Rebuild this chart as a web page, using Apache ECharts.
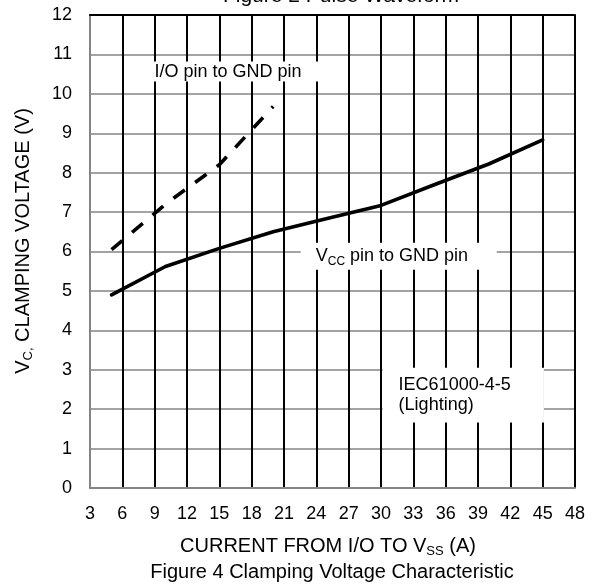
<!DOCTYPE html>
<html>
<head>
<meta charset="utf-8">
<script src="https://cdn.jsdelivr.net/npm/echarts@6/dist/echarts.min.js"></script>
<style>
html,body{margin:0;padding:0;background:#fff;}
#chart{width:602px;height:586px;}
</style>
</head>
<body>
<div id="chart"></div>
<script>
// ---- data ----
const xTickLabels = [3, 6, 9, 12, 15, 18, 21, 24, 27, 30, 33, 36, 39, 42, 45, 48];
const yTickLabels = [0, 1, 2, 3, 4, 5, 6, 7, 8, 9, 10, 11, 12];

// V_CC pin to GND pin (solid)
const vccCurrent = [5, 10, 15, 20, 25, 30, 35, 40, 45];
const vccVoltage = [4.9, 5.62, 6.08, 6.5, 6.84, 7.17, 7.7, 8.22, 8.83];

// I/O pin to GND pin (dashed)
const ioCurrent = [5, 10, 15, 20];
const ioVoltage = [6.05, 7.2, 8.2, 9.68];

const topTitle = 'Figure 2 Pulse Waveform';
const caption = 'Figure 4 Clamping Voltage Characteristic';
const ioLabel = 'I/O pin to GND pin';
const iecLabel = 'IEC61000-4-5\n(Lighting)';

// ---- chart ----
const FONT = "'Liberation Sans', Arial, Helvetica, sans-serif";
const chart = echarts.init(document.getElementById('chart'), null, {renderer: 'canvas'});

const xStep = xTickLabels[1] - xTickLabels[0];
const yStep = yTickLabels[1] - yTickLabels[0];

const richText = {
  n: {fontSize: 20, fontFamily: FONT, color: '#000', lineHeight: 24},
  s: {fontSize: 13, fontFamily: FONT, color: '#000', lineHeight: 13, verticalAlign: 'bottom'}
};
const richLabel = {
  n: {fontSize: 18, fontFamily: FONT, color: '#000', lineHeight: 22},
  s: {fontSize: 12, fontFamily: FONT, color: '#000', lineHeight: 12, verticalAlign: 'bottom'}
};

const option = {
  animation: false,
  backgroundColor: '#fff',
  grid: {left: 90, right: 27, top: 15, bottom: 98, containLabel: false},
  xAxis: [{
    type: 'value',
    min: xTickLabels[0], max: xTickLabels[xTickLabels.length - 1], interval: xStep,
    axisLine: {show: true, onZero: false, lineStyle: {color: '#858585', width: 2}},
    axisTick: {show: false},
    axisLabel: {color: '#000', fontSize: 18, fontFamily: FONT, margin: 17},
    splitLine: {show: true, showMinLine: false, lineStyle: {color: '#000', width: 2}},
    z: 1
  }, {
    type: 'value', position: 'top',
    min: xTickLabels[0], max: xTickLabels[xTickLabels.length - 1], interval: xStep,
    axisLine: {show: true, onZero: false, lineStyle: {color: '#000', width: 2}},
    axisTick: {show: false}, axisLabel: {show: false}, splitLine: {show: false},
    z: 2
  }],
  yAxis: {
    type: 'value',
    min: yTickLabels[0], max: yTickLabels[yTickLabels.length - 1], interval: yStep,
    axisLine: {show: true, onZero: false, lineStyle: {color: '#858585', width: 2}},
    axisTick: {show: false},
    axisLabel: {color: '#000', fontSize: 18, fontFamily: FONT, margin: 18},
    splitLine: {show: true, showMinLine: false, showMaxLine: false, lineStyle: {color: '#a3a3a3', width: 2}},
    z: 0
  },
  series: [{
    name: 'VCC pin to GND pin',
    type: 'line',
    data: vccCurrent.map((x, i) => [x, vccVoltage[i]]),
    showSymbol: false, symbol: 'none',
    lineStyle: {color: '#000', width: 3.6, type: 'solid', cap: 'round'},
    silent: true,
    markArea: {
      silent: true,
      itemStyle: {color: '#fff', opacity: 1, borderWidth: 0},
      data: [
        [{coord: [7.4, 10.82], label: {show: true, position: 'inside', formatter: ioLabel, color: '#000', fontSize: 18, fontFamily: FONT}},
         {coord: [24.2, 10.31]}],
        [{coord: [22.55, 6.22], label: {show: true, position: 'insideLeft', distance: 15, formatter: '{n|V}{s|CC}{n| pin to GND pin}', rich: richLabel}},
         {coord: [40.74, 5.54]}],
        [{coord: [30.15, 3.05], label: {show: true, position: 'insideLeft', distance: 16, formatter: iecLabel, color: '#000', fontSize: 18, fontFamily: FONT, lineHeight: 20}},
         {coord: [45.12, 1.66]}]
      ]
    }
  }, {
    name: 'I/O pin to GND pin',
    type: 'line',
    data: ioCurrent.map((x, i) => [x, ioVoltage[i]]),
    showSymbol: false, symbol: 'none',
    lineStyle: {color: '#000', width: 3.6, type: [14, 12.8], cap: 'butt'},
    silent: true
  }],
  graphic: [
    {type: 'text', x: 341, y: -4, silent: true,
     style: {text: topTitle, fill: '#000', font: '21px ' + FONT, align: 'center', verticalAlign: 'middle'}},
    {type: 'text', x: 23, y: 241, rotation: Math.PI / 2, silent: true,
     style: {text: '{n|V}{s|C,}{n| CLAMPING VOLTAGE (V)}', rich: richText, align: 'center', verticalAlign: 'middle'}},
    {type: 'text', x: 328, y: 546, silent: true,
     style: {text: '{n|CURRENT FROM I/O TO V}{s|SS}{n| (A)}', rich: richText, align: 'center', verticalAlign: 'middle'}},
    {type: 'text', x: 332, y: 572, silent: true,
     style: {text: caption, fill: '#000', font: '20px ' + FONT, align: 'center', verticalAlign: 'middle'}}
  ]
};
chart.setOption(option);
</script>
</body>
</html>
